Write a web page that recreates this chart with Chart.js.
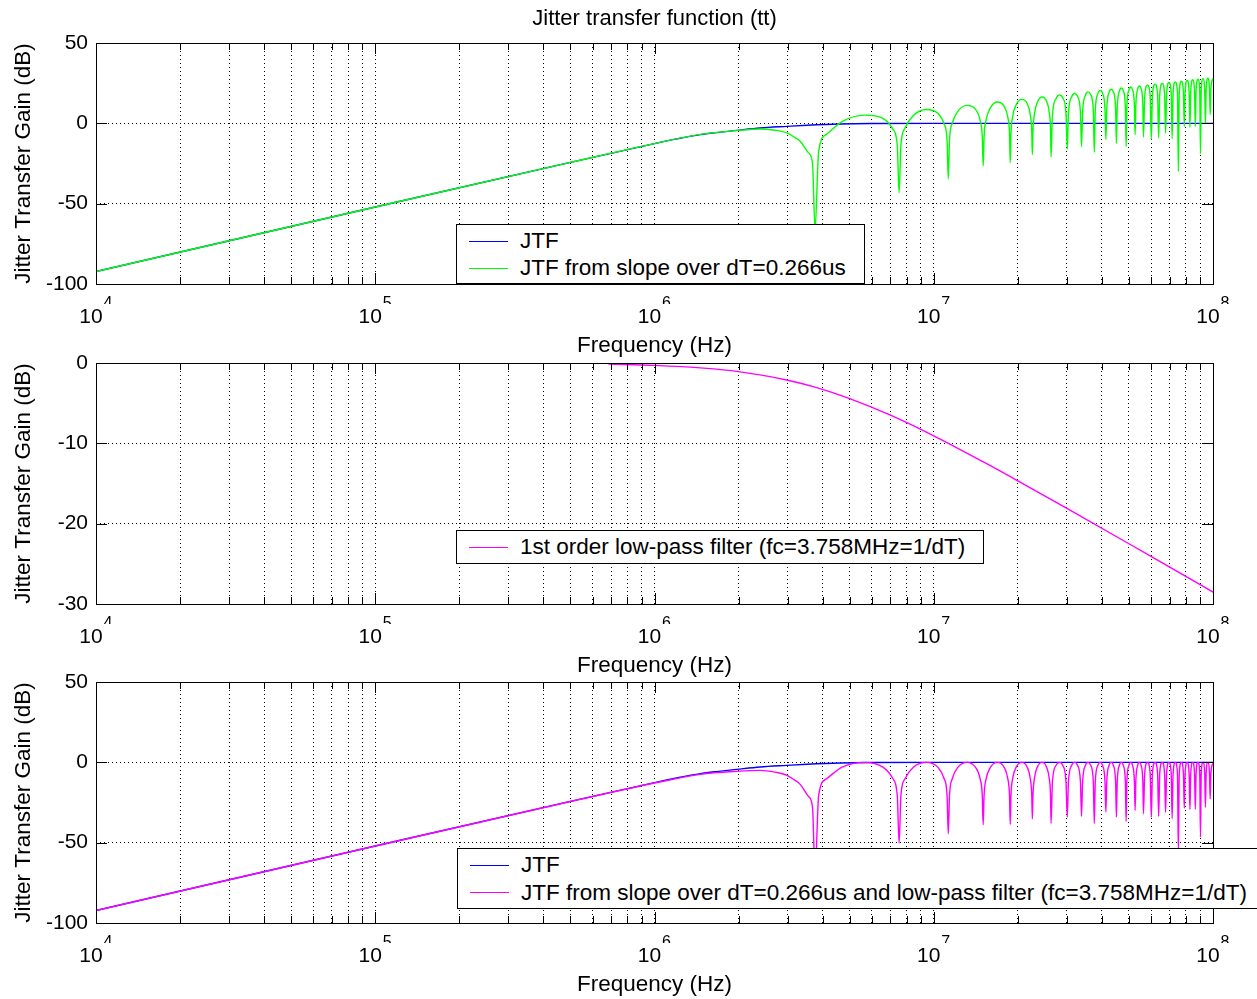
<!DOCTYPE html>
<html>
<head>
<meta charset="utf-8">
<title>Jitter transfer function (tt)</title>
<script src="https://cdn.jsdelivr.net/npm/chart.js@4.4.1/dist/chart.umd.min.js"></script>
<style>
  html, body { margin:0; padding:0; background:#fff; width:1257px; height:999px; overflow:hidden; }
  #fig { position:relative; width:1257px; height:999px; overflow:hidden; font-family:"Liberation Sans", Arial, Helvetica, sans-serif; }
  #fig canvas { position:absolute; left:0; }
  .lg { position:absolute; background:#fff; border:1px solid #000; box-sizing:border-box; color:#000; font-size:22.5px; }
  .lg .row { position:absolute; left:0; height:28px; width:100%; }
  .lg .sw { position:absolute; left:12px; width:39px; top:13.5px; height:0; border-top:1.5px solid; }
  .lg .tx { position:absolute; left:63px; top:0; line-height:28px; white-space:nowrap; }
</style>
</head>
<body>
<div id="fig">
  <canvas id="c1" width="1257" height="360" style="top:0px;width:1257px;height:360px"></canvas>
  <canvas id="c2" width="1257" height="360" style="top:320px;width:1257px;height:360px"></canvas>
  <canvas id="c3" width="1257" height="360" style="top:639px;width:1257px;height:360px"></canvas>

  <div class="lg" style="left:456px;top:224px;width:409px;height:60px">
    <div class="row" style="top:2px"><div class="sw" style="border-color:#0000ff"></div><div class="tx">JTF</div></div>
    <div class="row" style="top:29px"><div class="sw" style="border-color:#00ff00"></div><div class="tx">JTF from slope over dT=0.266us</div></div>
  </div>
  <div class="lg" style="left:456px;top:530px;width:528px;height:34px">
    <div class="row" style="top:2px"><div class="sw" style="border-color:#ff00ff"></div><div class="tx">1st order low-pass filter (fc=3.758MHz=1/dT)</div></div>
  </div>
  <div class="lg" style="left:457px;top:848px;width:830px;height:61px">
    <div class="row" style="top:2px"><div class="sw" style="border-color:#0000ff"></div><div class="tx">JTF</div></div>
    <div class="row" style="top:29.5px"><div class="sw" style="border-color:#ff00ff"></div><div class="tx">JTF from slope over dT=0.266us and low-pass filter (fc=3.758MHz=1/dT)</div></div>
  </div>
</div>

<script>
// ---------------- data ----------------
const decades = [1e4, 1e5, 1e6, 1e7, 1e8];
const decadeExponents = ['4', '5', '6', '7', '8'];
const decadeBase = '10';
const minorMultipliers = [1, 2, 3, 4, 5, 6, 7, 8, 9];

// JTF (blue)
const jtfFreq = [1e4, 1e5, 5e5, 1e6, 1.2e6, 1.46e6, 1.7e6, 1.97e6, 2.39e6, 2.98e6, 3.52e6, 4.62e6, 6e6, 1e7, 1e8];
const jtfGain = [-92.2, -52.1, -24.3, -12.6, -9.7, -7.0, -5.6, -4.4, -2.9, -1.9, -1.2, -0.4, -0.1, 0, 0];

// 1st order low-pass filter (magenta, middle)
const lpfFreq = [0.684e6, 1e6, 1.5e6, 2e6, 3e6, 3.758e6, 5e6, 7e6, 1e7, 1.5e7, 2e7, 3e7, 5e7, 7e7, 1e8];
const lpfGain = [-0.14, -0.30, -0.64, -1.08, -2.14, -3.01, -4.43, -6.50, -9.07, -12.29, -14.67, -18.11, -22.50, -25.42, -28.51];

// JTF from slope over dT (green, top) and with low-pass filter (magenta, bottom) share frequencies
const slopeFreq = [
  1e4, 1e5, 5e5, 1e6, 1.46e6, 1.97e6, 2.39e6, 2.7e6, 2.98e6, 3.16e6, 3.325e6, 3.559e6, 3.68e6,
  3.758e6,
  3.871e6, 4.134e6, 4.698e6, 5.637e6, 6.577e6, 7.140e6, 7.403e6,
  7.516e6,
  7.629e6, 7.892e6, 8.456e6, 9.395e6, 10.335e6, 10.898e6, 11.161e6,
  11.274e6,
  11.387e6, 11.650e6, 12.214e6, 13.153e6, 14.093e6, 14.656e6, 14.919e6,
  15.032e6,
  15.145e6, 15.408e6, 15.972e6, 16.911e6, 17.851e6, 18.414e6, 18.677e6,
  18.790e6,
  18.903e6, 19.166e6, 19.730e6, 20.669e6, 21.609e6, 22.172e6, 22.435e6,
  22.548e6,
  22.661e6, 22.924e6, 23.488e6, 24.427e6, 25.367e6, 25.930e6, 26.193e6,
  26.306e6,
  26.607e6, 27.433e6, 28.185e6, 28.937e6, 29.763e6,
  30.064e6,
  30.365e6, 31.191e6, 31.943e6, 32.695e6, 33.521e6,
  33.822e6,
  34.123e6, 34.949e6, 35.701e6, 36.453e6, 37.279e6,
  37.580e6,
  37.881e6, 38.707e6, 39.459e6, 40.211e6, 41.037e6,
  41.338e6,
  41.639e6, 42.465e6, 43.217e6, 43.969e6, 44.795e6,
  45.096e6,
  45.397e6, 46.223e6, 46.975e6, 47.727e6, 48.553e6,
  48.854e6,
  49.155e6, 49.981e6, 50.733e6, 51.485e6, 52.311e6,
  52.612e6,
  52.913e6, 53.739e6, 54.491e6, 55.243e6, 56.069e6,
  56.370e6,
  56.934e6, 58.249e6, 59.564e6,
  60.128e6,
  60.692e6, 62.007e6, 63.322e6,
  63.886e6,
  64.450e6, 65.765e6, 67.080e6,
  67.644e6,
  68.208e6, 69.523e6, 70.838e6,
  71.402e6,
  71.966e6, 73.281e6, 74.596e6,
  75.160e6,
  75.724e6, 77.039e6, 78.354e6,
  78.918e6,
  79.482e6, 80.797e6, 82.112e6,
  82.676e6,
  83.240e6, 84.555e6, 85.870e6,
  86.434e6,
  86.998e6, 88.313e6, 89.628e6,
  90.192e6,
  90.756e6, 92.071e6, 93.386e6,
  93.950e6,
  94.514e6, 95.829e6, 97.144e6,
  97.708e6,
  98.272e6, 1e8
];
const slopeGain = [
  -92.2, -52.1, -24.3, -12.6, -6.9, -4.5, -3.5, -4.3, -6.0, -8.5, -11.2, -18.4, -25.0,
  -66,
  -17.4, -6.8, 1.1, 5.1, 3.1, -3.6, -13.6,
  -43.3,
  -13.4, -2.9, 4.8, 8.6, 6.3, -0.5, -10.6,
  -34.5,
  -10.4, 0.1, 7.6, 11.2, 8.8, 1.9, -8.3,
  -26.5,
  -8.1, 2.3, 9.8, 13.3, 10.7, 3.8, -6.4,
  -24.5,
  -6.3, 4.1, 11.6, 14.9, 12.3, 5.3, -4.9,
  -19.5,
  -4.8, 5.6, 13.0, 16.4, 13.7, 6.7, -3.5,
  -21,
  5.0, 15.5, 17.6, 16.0, 5.9,
  -16,
  6.1, 16.6, 18.6, 17.0, 7.0,
  -14.5,
  7.1, 17.6, 19.6, 18.0, 7.9,
  -18,
  8.0, 18.5, 20.5, 18.8, 8.7,
  -10,
  8.8, 19.3, 21.2, 19.6, 9.5,
  -12.5,
  9.6, 20.0, 22.0, 20.3, 10.2,
  -14.5,
  10.3, 20.7, 22.6, 21.0, 10.8,
  -7,
  10.9, 21.3, 23.2, 21.6, 11.4,
  -8.5,
  16.7, 23.8, 17.1,
  -10,
  17.3, 24.4, 17.6,
  -9,
  17.8, 24.9, 18.1,
  -6,
  18.3, 25.4, 18.6,
  -9.5,
  18.8, 25.8, 19.1,
  -30,
  19.2, 26.2, 19.5,
  -2,
  19.6, 26.7, 19.9,
  -2.5,
  20.0, 27.1, 20.3,
  -2,
  20.4, 27.4, 20.7,
  -19,
  20.8, 27.8, 21.0,
  0,
  21.1, 28.1, 21.4,
  5.4,
  21.5, 28.0
];
const slopeLpfGain = [
  -92.2, -52.1, -24.4, -12.9, -7.5, -5.6, -5.0, -6.1, -8.1, -10.8, -13.7, -21.2, -27.9,
  -69,
  -20.5, -10.2, -3.0, 0, -3.0, -10.2, -20.5,
  -50.3,
  -20.5, -10.2, -3.0, 0, -3.0, -10.2, -20.5,
  -44.5,
  -20.5, -10.2, -3.0, 0, -3.0, -10.2, -20.5,
  -38.8,
  -20.5, -10.2, -3.0, 0, -3.0, -10.2, -20.5,
  -38.6,
  -20.5, -10.2, -3.0, 0, -3.0, -10.2, -20.5,
  -35.2,
  -20.5, -10.2, -3.0, 0, -3.0, -10.2, -20.5,
  -38,
  -12.1, -1.8, 0, -1.8, -12.1,
  -34.1,
  -12.1, -1.8, 0, -1.8, -12.1,
  -33.6,
  -12.1, -1.8, 0, -1.8, -12.1,
  -38,
  -12.1, -1.8, 0, -1.8, -12.1,
  -30.9,
  -12.1, -1.8, 0, -1.8, -12.1,
  -34.1,
  -12.1, -1.8, 0, -1.8, -12.1,
  -36.8,
  -12.1, -1.8, 0, -1.8, -12.1,
  -29.9,
  -12.1, -1.8, 0, -1.8, -12.1,
  -32,
  -6.9, 0, -6.9,
  -34.1,
  -6.9, 0, -6.9,
  -33.6,
  -6.9, 0, -6.9,
  -31.1,
  -6.9, 0, -6.9,
  -35.1,
  -6.9, 0, -6.9,
  -56,
  -6.9, 0, -6.9,
  -28.5,
  -6.9, 0, -6.9,
  -29.4,
  -6.9, 0, -6.9,
  -29.2,
  -6.9, 0, -6.9,
  -46.6,
  -6.9, 0, -6.9,
  -28,
  -6.9, 0, -6.9,
  -22.9,
  -6.9, -0.5
];

// ---------------- chart setup ----------------
Chart.defaults.font.family = '"Liberation Sans", Arial, Helvetica, sans-serif';
Chart.defaults.color = '#000';

const gridXValues = [];
decades.slice(0, -1).forEach(d => minorMultipliers.forEach(m => gridXValues.push(d * m)));
gridXValues.push(decades[decades.length - 1]);

const framePlugin = {
  id: 'matlabFrame',
  afterDatasetsDraw(chart) {
    const { ctx, chartArea: a, scales } = chart;
    ctx.save();
    ctx.setLineDash([]);
    ctx.strokeStyle = '#000';
    ctx.lineWidth = 1;
    ctx.beginPath();
    scales.y.ticks.forEach(t => {
      const py = Math.round(scales.y.getPixelForValue(t.value)) + 0.5;
      ctx.moveTo(a.left, py); ctx.lineTo(a.left + 11, py);
      ctx.moveTo(a.right, py); ctx.lineTo(a.right - 11, py);
    });
    scales.x.ticks.forEach(t => {
      const len = decades.includes(t.value) ? 11 : 7;
      const px = Math.round(scales.x.getPixelForValue(t.value)) + 0.5;
      ctx.moveTo(px, a.bottom); ctx.lineTo(px, a.bottom - len);
      ctx.moveTo(px, a.top); ctx.lineTo(px, a.top + len);
    });
    ctx.stroke();
    ctx.strokeRect(Math.round(a.left) + 0.5, Math.round(a.top) + 0.5,
                   Math.round(a.right - a.left), Math.round(a.bottom - a.top));
    ctx.restore();
  }
};

function xScales() {
  return {
    x: {
      type: 'logarithmic', position: 'bottom', weight: 0, min: 1e4, max: 1e8,
      afterBuildTicks: s => { s.ticks = gridXValues.map(v => ({ value: v })); },
      afterFit: s => { s.height = 20; },
      grid: { color: '#000', lineWidth: 1, drawTicks: false },
      border: { display: false, dash: [1, 3] },
      ticks: {
        autoSkip: false, maxRotation: 0, minRotation: 0, padding: 9.5, labelOffset: 12,
        font: { size: 16 }, color: '#000',
        callback: v => { const i = decades.indexOf(v); return i >= 0 ? decadeExponents[i] : ''; }
      }
    },
    x2: {
      type: 'logarithmic', position: 'bottom', weight: 1, min: 1e4, max: 1e8,
      afterBuildTicks: s => { s.ticks = decades.map(v => ({ value: v })); },
      afterFit: s => { s.height = 56; },
      grid: { display: false, drawTicks: false },
      border: { display: false },
      ticks: {
        autoSkip: false, maxRotation: 0, minRotation: 0, padding: 0.4, labelOffset: -5,
        font: { size: 21 }, color: '#000', callback: () => decadeBase
      },
      title: { display: true, text: 'Frequency (Hz)', font: { size: 22.5 }, color: '#000', padding: { top: 0, bottom: 0.5 } }
    }
  };
}

function yScale(min, max, step) {
  return {
    type: 'linear', position: 'left', min: min, max: max,
    afterFit: s => { s.width = 96; },
    grid: { color: '#000', lineWidth: 1, drawTicks: false },
    border: { display: false, dash: [1, 3] },
    ticks: { stepSize: step, padding: 8, font: { size: 21 }, color: '#000' },
    title: { display: true, text: 'Jitter Transfer Gain (dB)', font: { size: 22.5 }, color: '#000', padding: { top: 10.5, bottom: 0 } }
  };
}

function series(label, xs, ys, color) {
  return {
    label: label,
    data: xs.map((x, i) => ({ x: x, y: ys[i] })),
    borderColor: color, backgroundColor: color,
    borderWidth: 1.4, pointRadius: 0, fill: false,
    cubicInterpolationMode: 'monotone'
  };
}

function makeChart(id, datasets, yMin, yMax, yStep, title) {
  const scales = Object.assign(xScales(), { y: yScale(yMin, yMax, yStep) });
  return new Chart(document.getElementById(id), {
    type: 'line',
    data: { datasets: datasets },
    options: {
      responsive: false, animation: false, devicePixelRatio: 1, events: [],
      layout: { padding: { top: title ? 0 : 43, right: 44, bottom: 0, left: 0 } },
      plugins: {
        legend: { display: false },
        tooltip: { enabled: false },
        title: title ? {
          display: true, text: title, fullSize: false, color: '#000',
          font: { size: 22, weight: 'normal' }, padding: { top: 5.8, bottom: 10.8 }
        } : { display: false }
      },
      scales: scales
    },
    plugins: [framePlugin]
  });
}

// first dataset is drawn on top in Chart.js, so the slope curves come first
makeChart('c1', [
  series('JTF from slope over dT=0.266us', slopeFreq, slopeGain, '#00ff00'),
  series('JTF', jtfFreq, jtfGain, '#0000ff')
], -100, 50, 50, 'Jitter transfer function (tt)');

makeChart('c2', [
  series('1st order low-pass filter (fc=3.758MHz=1/dT)', lpfFreq, lpfGain, '#ff00ff')
], -30, 0, 10, null);

makeChart('c3', [
  series('JTF from slope over dT=0.266us and low-pass filter (fc=3.758MHz=1/dT)', slopeFreq, slopeLpfGain, '#ff00ff'),
  series('JTF', jtfFreq, jtfGain, '#0000ff')
], -100, 50, 50, null);
</script>
</body>
</html>
